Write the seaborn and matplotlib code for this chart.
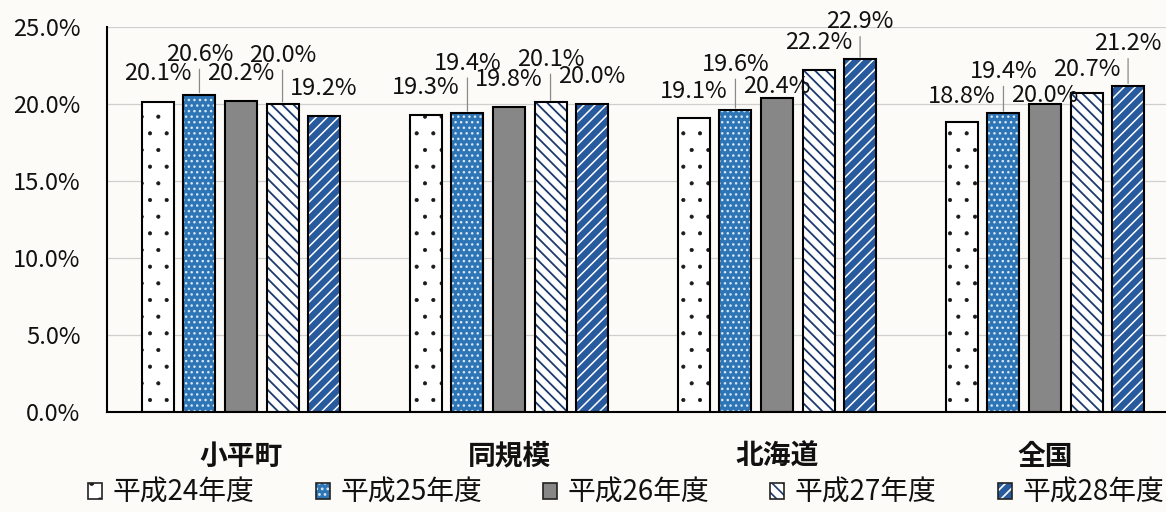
import matplotlib
matplotlib.use("Agg")
import matplotlib.pyplot as plt
from matplotlib.patches import Patch, Rectangle
from matplotlib.legend_handler import HandlerTuple
from matplotlib.ticker import FuncFormatter
import numpy as np
import pandas as pd
import seaborn as sns

# ---- data -------------------------------------------------------------
regions = ["小平町", "同規模", "北海道", "全国"]
years = ["平成24年度", "平成25年度", "平成26年度", "平成27年度", "平成28年度"]
h24 = [20.1, 19.3, 19.1, 18.8]
h25 = [20.6, 19.4, 19.6, 19.4]
h26 = [20.2, 19.8, 20.4, 20.0]
h27 = [20.0, 20.1, 22.2, 20.7]
h28 = [19.2, 20.0, 22.9, 21.2]
y_ticks = [0, 5, 10, 15, 20, 25]

# ---- styling ----------------------------------------------------------
bg = "#fcfbf7"
bar_styles = [
    dict(face="#ffffff", hatch=".", hc="#1a1a1a", hlw=0.5),
    dict(face="#2e75b6", hatch="...", hc="#d8e8f8", hlw=1.0),
    dict(face="#878787", hatch="", hc="#878787", hlw=1.0),
    dict(face="#ffffff", hatch="\\\\\\", hc="#1c3a6e", hlw=1.3),
    dict(face="#285a9e", hatch="///", hc="#ffffff", hlw=1.1),
]
# how far (points) each value label sits above its bar, and whether a
# leader line joins them
label_lift = {
    "小平町": [21, 29, 20, 35, 20],
    "同規模": [20, 36, 20, 31, 20],
    "北海道": [19, 33, 8, 20, 27],
    "全国": [19, 30, 6, 17, 30],
}
leader = {
    "小平町": [0, 1, 0, 1, 0],
    "同規模": [0, 1, 0, 1, 0],
    "北海道": [0, 1, 0, 0, 1],
    "全国": [0, 1, 0, 0, 1],
}

sns.set_theme(style="white")
plt.rcParams["font.family"] = ["Noto Sans CJK JP", "DejaVu Sans"]
plt.rcParams["hatch.linewidth"] = 1.2

series = [h24, h25, h26, h27, h28]
df = pd.DataFrame({
    "region": regions * len(years),
    "year": np.repeat(years, len(regions)),
    "value": np.concatenate(series),
})

fig = plt.figure(figsize=(11.66, 5.12), dpi=100, facecolor=bg)
ax = fig.add_axes([107 / 1166, 100 / 512, 1072 / 1166, 385 / 512])
ax.set_facecolor(bg)

sns.barplot(
    data=df, x="region", y="value", hue="year",
    order=regions, hue_order=years,
    palette=[s["face"] for s in bar_styles], saturation=1,
    width=0.775, gap=0.23, errorbar=None, legend=False,
    edgecolor="black", linewidth=1.5, ax=ax,
)

ax.set_ylim(0, 25)
ax.set_yticks(y_ticks)
ax.yaxis.set_major_formatter(FuncFormatter(lambda v, _: f"{v:.1f}%"))
ax.grid(axis="y", color="#cfcfcf", linewidth=0.9)
ax.set_axisbelow(True)
for side in ("top", "right"):
    ax.spines[side].set_visible(False)
for side in ("left", "bottom"):
    ax.spines[side].set_color("black")
    ax.spines[side].set_linewidth(1.5)
ax.tick_params(axis="y", length=0, pad=19, labelsize=17, colors="#111111")
ax.tick_params(axis="x", length=0, pad=22, labelsize=20, colors="#111111")
for t in ax.get_xticklabels():
    t.set_fontweight("bold")
ax.set_xlabel("")
ax.set_ylabel("")

# hatch the bars, outline them, and add value labels
for k, (container, style) in enumerate(zip(ax.containers, bar_styles)):
    for p in container.patches:
        ci = int(round(p.get_x() + p.get_width() / 2))
        region = regions[ci]
        value = series[k][ci]
        p.set_facecolor(style["face"])
        p.set_hatch(style["hatch"])
        p.set_edgecolor(style["hc"])
        p.set_linewidth(0)
        if hasattr(p, "set_hatch_linewidth"):
            p.set_hatch_linewidth(style["hlw"])
        ax.add_patch(Rectangle(p.get_xy(), p.get_width(), p.get_height(),
                               fill=False, edgecolor="black", linewidth=1.5,
                               zorder=p.get_zorder() + 0.1))
        cx = p.get_x() + p.get_width() / 2
        arrow = dict(arrowstyle="-", color="#8a8a8a", lw=0.9,
                     shrinkA=0, shrinkB=1.5) if leader[region][k] else None
        ax.annotate(f"{value:.1f}%", xy=(cx, p.get_height()),
                    xytext=(0, label_lift[region][k]),
                    textcoords="offset points", ha="center", va="center",
                    fontsize=17, color="#111111", arrowprops=arrow)

# legend with hatched squares
handles = []
for s in bar_styles:
    fillp = Patch(facecolor=s["face"], hatch=s["hatch"], edgecolor=s["hc"], linewidth=0)
    if hasattr(fillp, "set_hatch_linewidth"):
        fillp.set_hatch_linewidth(s["hlw"] * 0.8)
    edge = Patch(facecolor="none", edgecolor="#222222", linewidth=1.2)
    handles.append((fillp, edge))
fig.legend(handles, years, handler_map={tuple: HandlerTuple(ndivide=1, pad=0)},
           loc="center", bbox_to_anchor=(0.537, 0.037), ncol=5, frameon=False,
           fontsize=20, handlelength=0.5, handleheight=0.5, handletextpad=0.38,
           columnspacing=2.2, labelcolor="#111111")

fig.savefig("out.png", dpi=100, facecolor=bg)
